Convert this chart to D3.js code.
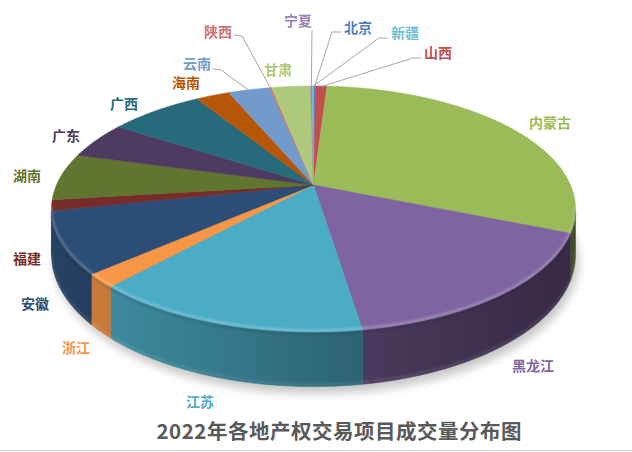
<!DOCTYPE html>
<html>
<head>
<meta charset="utf-8">
<script src="https://cdn.jsdelivr.net/npm/d3@7"></script>
<style>
  body { margin: 0; background: #fff; }
  svg { display: block; }
</style>
</head>
<body>
<div id="chart"></div>
<script>
// slice data, in the order the workbook lists them (drawn clockwise from 12 o'clock)
const regions = ['北京', '山西', '内蒙古', '黑龙江', '江苏', '浙江', '安徽', '福建', '湖南', '广东', '广西', '海南', '云南', '陕西', '甘肃', '宁夏', '新疆'];
const shares = [0.15, 0.85, 30.2, 16.4, 14.3, 1.75, 8.1, 1.4, 6.2, 4.9, 7.0, 2.5, 3.1, 0.15, 2.9, 0.12, 0.1];
const palette = ['#4f81bd', '#c0504d', '#9bbb59', '#8064a2', '#4bacc6', '#f79646', '#2c4d75', '#772c2a', '#5f7530', '#4d3b62', '#276a7c', '#b65708', '#729aca', '#cd7371', '#afc97a', '#9983b5', '#6fbdd1'];
const chartTitle = '2022年各地产权交易项目成交量分布图';

// label placement (text centre) and which labels get a leader line
const labelLayout = {
    '北京': {x: 358, y: 27, elbow: [332, 32], start: [341, 32]},
    '新疆': {x: 405, y: 32, elbow: [379, 38], start: [388, 38]},
    '山西': {x: 438, y: 52, elbow: [413, 58], start: [421, 58]},
    '宁夏': {x: 298, y: 20, elbow: [312, 30], start: [312, 30]},
    '陕西': {x: 218, y: 31, elbow: [242, 36], start: [234, 35]},
    '甘肃': {x: 278, y: 69},
    '云南': {x: 197, y: 63, elbow: [221, 70], start: [213, 69]},
    '海南': {x: 186, y: 82},
    '广西': {x: 124, y: 103},
    '广东': {x: 66, y: 135},
    '湖南': {x: 27, y: 175},
    '福建': {x: 27, y: 258},
    '安徽': {x: 35, y: 303},
    '浙江': {x: 76, y: 347},
    '江苏': {x: 200, y: 401},
    '黑龙江': {x: 533, y: 365},
    '内蒙古': {x: 550, y: 122}
};

const width = 632, height = 452;

// perspective projection of a tilted disc
const cx = 313.5, cy = 185, A = 257, B = 118.3, k = 0.195, H = 44;
function proj(phi, depth) {
    const u = Math.sin(phi), d = -Math.cos(phi);
    const w = 1 - k * d;
    return [cx + A * u / w, cy + B * d / w + depth * H / w];
}
function rim(a0, a1, depth) {
    const n = Math.max(2, Math.ceil((a1 - a0) / (Math.PI / 360)));
    return d3.range(n + 1).map(i => proj(a0 + (a1 - a0) * i / n, depth));
}
const pt = p => `${p[0].toFixed(2)},${p[1].toFixed(2)}`;

function scaleColor(c, f) {
    const r = d3.rgb(c);
    return d3.rgb(r.r * f, r.g * f, r.b * f).formatHex();
}

const svg = d3.select('#chart')
    .append('svg')
    .attr('width', width)
    .attr('height', height)
    .style('font-family', '"Noto Sans CJK SC", "Noto Sans", sans-serif');

const defs = svg.append('defs');
defs.append('filter').attr('id', 'shadow-blur')
    .attr('x', '-20%').attr('y', '-20%').attr('width', '140%').attr('height', '140%')
    .append('feGaussianBlur').attr('stdDeviation', 5);
defs.append('filter').attr('id', 'soft')
    .append('feGaussianBlur').attr('stdDeviation', 0.8);

const slices = d3.pie().sort(null).startAngle(0).endAngle(2 * Math.PI)(shares)
    .map((s, i) => ({...s, name: regions[i], color: palette[i]}));

// side gradients: lit from the left, darker to the right
slices.forEach((s, i) => {
    const g = defs.append('linearGradient')
        .attr('id', `side-${i}`)
        .attr('gradientUnits', 'userSpaceOnUse')
        .attr('x1', cx - A).attr('x2', cx + A).attr('y1', 0).attr('y2', 0);
    g.append('stop').attr('offset', 0).attr('stop-color', scaleColor(s.color, 0.85));
    g.append('stop').attr('offset', 0.5).attr('stop-color', scaleColor(s.color, 0.62));
    g.append('stop').attr('offset', 1).attr('stop-color', scaleColor(s.color, 0.42));
});

// visible part of the side wall
const vis0 = Math.acos(-k), vis1 = 2 * Math.PI - Math.acos(-k);

// drop shadow under the disc
const bottomRim = rim(0, 2 * Math.PI, 1).map(p => [p[0] + 3, p[1] + 7]);
svg.append('path')
    .attr('d', 'M' + bottomRim.map(pt).join('L') + 'Z')
    .attr('fill', '#000')
    .attr('opacity', 0.22)
    .attr('filter', 'url(#shadow-blur)');

// side walls
const sides = svg.append('g');
slices.forEach((s, i) => {
    const a0 = Math.max(s.startAngle, vis0), a1 = Math.min(s.endAngle, vis1);
    if (a1 <= a0) return;
    const top = rim(a0, a1, 0), bot = rim(a0, a1, 1).reverse();
    sides.append('path')
        .attr('d', 'M' + top.concat(bot).map(pt).join('L') + 'Z')
        .attr('fill', `url(#side-${i})`)
        .attr('stroke', `url(#side-${i})`)
        .attr('stroke-width', 0.5);
});

// soft light along the bottom edge of the wall
svg.append('path')
    .attr('d', 'M' + rim(vis0, vis1, 1).map(p => [p[0], p[1] - 2]).map(pt).join('L'))
    .attr('fill', 'none')
    .attr('stroke', '#fff')
    .attr('stroke-opacity', 0.12)
    .attr('stroke-width', 2)
    .attr('filter', 'url(#soft)');

// top faces
const tops = svg.append('g');
slices.forEach(s => {
    const pts = rim(s.startAngle, s.endAngle, 0);
    tops.append('path')
        .attr('d', `M${cx},${cy}L` + pts.map(pt).join('L') + 'Z')
        .attr('fill', s.color)
        .attr('stroke', s.color)
        .attr('stroke-width', 0.5)
        .attr('stroke-linejoin', 'round');
});

// bevel highlight along the front rim
svg.append('path')
    .attr('d', 'M' + rim(vis0, vis1, 0).map(p => [p[0], p[1] - 1.5]).map(pt).join('L'))
    .attr('fill', 'none')
    .attr('stroke', '#fff')
    .attr('stroke-opacity', 0.3)
    .attr('stroke-width', 2)
    .attr('filter', 'url(#soft)');
svg.append('path')
    .attr('d', 'M' + rim(vis0, vis1, 0).map(p => [p[0], p[1] + 2]).map(pt).join('L'))
    .attr('fill', 'none')
    .attr('stroke', '#000')
    .attr('stroke-opacity', 0.15)
    .attr('stroke-width', 2)
    .attr('filter', 'url(#soft)');

// leader lines
const leaders = svg.append('g');
slices.forEach(s => {
    const L = labelLayout[s.name];
    if (!L.elbow) return;
    const end = proj((s.startAngle + s.endAngle) / 2, 0);
    leaders.append('polyline')
        .attr('points', [L.start, L.elbow, [end[0], end[1] + 0.5]].map(pt).join(' '))
        .attr('fill', 'none')
        .attr('stroke', '#a6a6a6')
        .attr('stroke-width', 1);
});

// labels
svg.append('g')
    .selectAll('text')
    .data(slices)
    .join('text')
    .attr('x', d => labelLayout[d.name].x)
    .attr('y', d => labelLayout[d.name].y)
    .attr('text-anchor', 'middle')
    .attr('dominant-baseline', 'central')
    .attr('font-size', 14)
    .attr('font-weight', 'bold')
    .attr('fill', d => d.color)
    .text(d => d.name);

// title
svg.append('text')
    .attr('x', 339)
    .attr('y', 430)
    .attr('text-anchor', 'middle')
    .attr('dominant-baseline', 'central')
    .attr('font-size', 20.5)
    .attr('font-weight', 'bold')
    .attr('fill', '#595959')
    .attr('textLength', 365)
    .attr('lengthAdjust', 'spacing')
    .text(chartTitle);

// chart frame bottom edge
svg.append('line')
    .attr('x1', 0).attr('x2', width)
    .attr('y1', height - 1.5).attr('y2', height - 1.5)
    .attr('stroke', '#d9d9d9')
    .attr('stroke-width', 1);
</script>
</body>
</html>
